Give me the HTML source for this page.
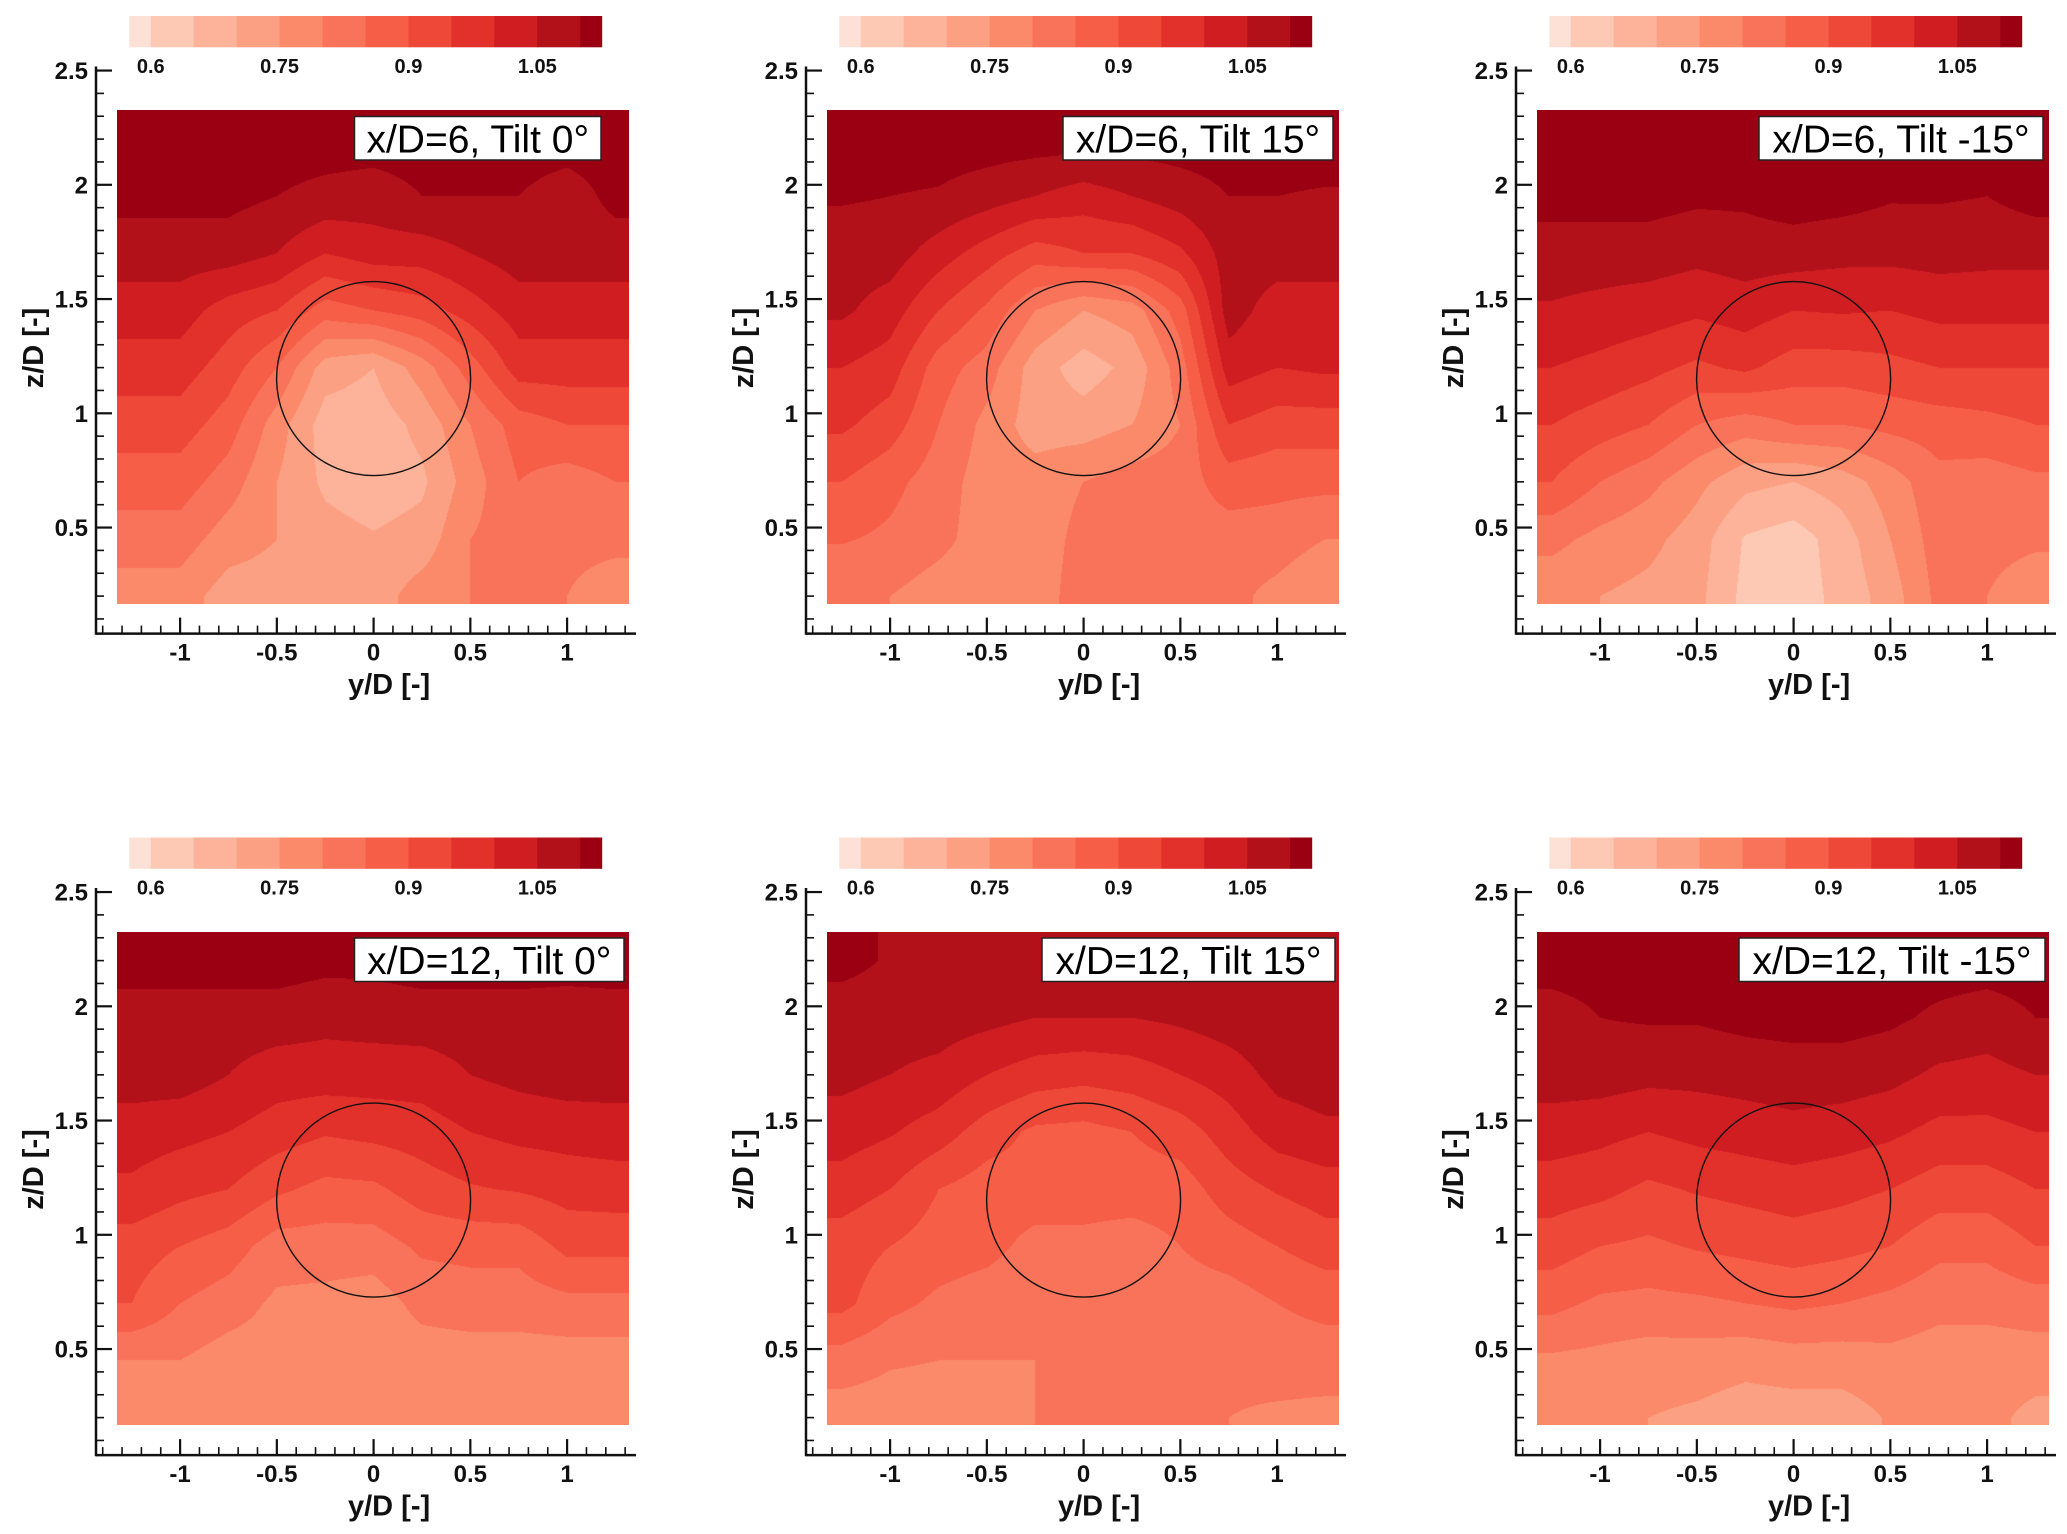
<!DOCTYPE html>
<html><head><meta charset="utf-8"><style>
html,body{margin:0;padding:0;background:#fff;}
#root{position:relative;width:2067px;height:1534px;background:#fff;overflow:hidden;}
#root canvas{position:absolute;}
#overlay{position:absolute;left:0;top:0;}
</style></head>
<body>
<div id="root">
<svg id="overlay" width="2067" height="1534" xmlns="http://www.w3.org/2000/svg"></svg>
</div>
<script>
const yNodes=[-1.25,-1,-0.75,-0.5,-0.25,0,0.25,0.5,0.75,1,1.25];
const zNodes=[2.2,1.95,1.7,1.45,1.2,0.95,0.7,0.45,0.2];
const levels=[0.6,0.65,0.7,0.75,0.8,0.85,0.9,0.95,1.0,1.05,1.1];
const levelColors=['#fde0d6','#fdc9b4','#fcb39a','#fca083','#fb8a6a','#f9735a','#f65e48','#ee4838','#e2302a','#cf1d22','#b3111a','#9a0012'];
const cbTicks=[0.6,0.75,0.9,1.05];
const cbTickLabels=['0.6','0.75','0.9','1.05'];
const xTicks=[-1,-0.5,0,0.5,1];
const xTickLabels=['-1','-0.5','0','0.5','1'];
const zTicks=[0.5,1,1.5,2,2.5];
const zTickLabels=['0.5','1','1.5','2','2.5'];
const panelTitles=['x/D=6, Tilt 0°','x/D=6, Tilt 15°','x/D=6, Tilt -15°','x/D=12, Tilt 0°','x/D=12, Tilt 15°','x/D=12, Tilt -15°'];

const u6t0=[
[1.125,1.125,1.125,1.125,1.125,1.125,1.125,1.125,1.125,1.125,1.125],
[1.115,1.115,1.115,1.1,1.085,1.075,1.1,1.1,1.1,1.075,1.115],
[1.075,1.075,1.075,1.05,1.0,1.025,1.025,1.05,1.075,1.075,1.075],
[1.025,1.025,0.975,0.95,0.875,0.9,0.925,0.975,1.025,1.025,1.025],
[0.975,0.975,0.925,0.85,0.725,0.7,0.775,0.875,0.975,0.975,0.975],
[0.925,0.925,0.875,0.775,0.675,0.67,0.715,0.8,0.875,0.9,0.9],
[0.875,0.875,0.825,0.75,0.69,0.67,0.69,0.775,0.85,0.825,0.85],
[0.825,0.825,0.775,0.75,0.72,0.705,0.72,0.8,0.825,0.825,0.825],
[0.775,0.775,0.725,0.725,0.725,0.725,0.775,0.8,0.8,0.8,0.75]];
const u6t15=[
[1.125,1.125,1.125,1.125,1.125,1.125,1.125,1.125,1.125,1.125,1.125],
[1.105,1.1,1.095,1.075,1.05,1.025,1.05,1.075,1.1,1.1,1.095],
[1.075,1.075,1.025,0.975,0.925,0.95,0.95,0.99,1.075,1.075,1.075],
[1.06,1.025,0.95,0.89,0.8,0.75,0.775,0.875,1.075,1.025,1.025],
[1.0,0.975,0.875,0.825,0.725,0.675,0.715,0.825,1.025,1.0,1.01],
[0.96,0.925,0.85,0.785,0.725,0.725,0.75,0.8,0.95,0.925,0.925],
[0.9,0.865,0.825,0.775,0.775,0.8,0.825,0.825,0.875,0.865,0.865],
[0.855,0.84,0.815,0.775,0.775,0.815,0.825,0.825,0.825,0.825,0.8],
[0.8,0.8,0.775,0.765,0.775,0.825,0.825,0.825,0.815,0.785,0.75]];
const u6tm15=[
[1.125,1.125,1.125,1.125,1.125,1.125,1.125,1.125,1.125,1.125,1.125],
[1.12,1.12,1.12,1.11,1.11,1.125,1.12,1.105,1.105,1.1,1.12],
[1.075,1.075,1.075,1.065,1.075,1.075,1.065,1.065,1.07,1.065,1.065],
[1.045,1.035,1.025,1.01,1.025,1.0,1.005,1.0,1.015,1.015,1.015],
[1.0,0.985,0.965,0.94,0.96,0.925,0.925,0.935,0.95,0.95,0.95],
[0.95,0.925,0.9,0.85,0.825,0.85,0.85,0.865,0.875,0.885,0.9],
[0.9,0.85,0.815,0.765,0.715,0.7,0.725,0.775,0.835,0.825,0.84],
[0.815,0.785,0.765,0.725,0.645,0.625,0.675,0.75,0.825,0.825,0.815],
[0.765,0.75,0.735,0.715,0.635,0.625,0.665,0.725,0.815,0.8,0.75]];
const u12t0=[
[1.125,1.125,1.125,1.125,1.115,1.115,1.125,1.125,1.125,1.12,1.125],
[1.075,1.075,1.075,1.075,1.065,1.07,1.075,1.075,1.075,1.075,1.075],
[1.075,1.075,1.05,1.025,1.025,1.025,1.025,1.05,1.065,1.075,1.075],
[1.025,1.015,1.0,0.975,0.955,0.965,0.975,1.0,1.015,1.02,1.025],
[0.99,0.965,0.95,0.91,0.885,0.89,0.925,0.945,0.955,0.97,0.975],
[0.925,0.9,0.875,0.825,0.825,0.825,0.86,0.865,0.865,0.915,0.915],
[0.9,0.85,0.825,0.79,0.785,0.775,0.815,0.825,0.825,0.835,0.835],
[0.8,0.8,0.775,0.775,0.775,0.775,0.775,0.775,0.775,0.775,0.775],
[0.775,0.775,0.775,0.76,0.75,0.75,0.775,0.775,0.775,0.775,0.775]];
const u12t15=[
[1.115,1.095,1.09,1.09,1.085,1.085,1.085,1.09,1.095,1.095,1.095],
[1.075,1.075,1.075,1.065,1.05,1.05,1.05,1.06,1.075,1.085,1.09],
[1.065,1.05,1.035,1.0,0.975,0.965,0.975,1.0,1.025,1.065,1.075],
[1.025,1.005,0.975,0.925,0.89,0.885,0.9,0.925,0.975,1.025,1.04],
[0.975,0.95,0.9,0.875,0.875,0.875,0.875,0.875,0.925,0.955,0.975],
[0.925,0.9,0.875,0.865,0.835,0.835,0.825,0.85,0.875,0.9,0.925],
[0.915,0.865,0.84,0.825,0.815,0.825,0.825,0.825,0.825,0.85,0.865],
[0.825,0.805,0.8,0.8,0.8,0.815,0.81,0.81,0.815,0.825,0.825],
[0.775,0.775,0.775,0.785,0.8,0.815,0.8,0.8,0.8,0.79,0.785]];
const u12tm15=[
[1.125,1.125,1.125,1.125,1.125,1.125,1.125,1.125,1.125,1.125,1.125],
[1.075,1.1,1.105,1.105,1.115,1.12,1.12,1.11,1.09,1.075,1.1],
[1.075,1.075,1.065,1.065,1.07,1.075,1.075,1.065,1.04,1.035,1.05],
[1.025,1.015,1.0,1.015,1.025,1.035,1.025,1.01,0.985,0.985,1.0],
[0.975,0.965,0.94,0.955,0.965,0.975,0.965,0.95,0.925,0.925,0.95],
[0.925,0.9,0.89,0.905,0.915,0.925,0.915,0.9,0.865,0.865,0.9],
[0.865,0.84,0.835,0.84,0.85,0.86,0.85,0.835,0.815,0.815,0.825],
[0.79,0.785,0.775,0.775,0.765,0.775,0.775,0.785,0.775,0.775,0.775],
[0.765,0.75,0.75,0.74,0.725,0.725,0.725,0.755,0.765,0.765,0.735]];

const fields=[u6t0,u6t15,u6tm15,u12t0,u12t15,u12tm15];
const boxLeft=[354.5,353,339,354.5,332,319];
const boxRight=[601,623,623,624,625,625];
const root=document.getElementById('root');
const svg=document.getElementById('overlay');
const NS='http://www.w3.org/2000/svg';
const FONT='"Liberation Sans", Arial, sans-serif';

function mk(tag,attrs,parent){const e=document.createElementNS(NS,tag);for(const k in attrs)e.setAttribute(k,attrs[k]);(parent||svg).appendChild(e);return e;}
function levelIndex(v){let i=0;for(let k=0;k<levels.length;k++){if(v>=levels[k])i=k+1;}return i;}
function sample(f,y,z){
  let fy=(y-yNodes[0])/(yNodes[1]-yNodes[0]);fy=Math.max(0,Math.min(yNodes.length-1,fy));
  let fz=(zNodes[0]-z)/(zNodes[0]-zNodes[1]);fz=Math.max(0,Math.min(zNodes.length-1,fz));
  const i0=Math.min(Math.floor(fy),yNodes.length-2),j0=Math.min(Math.floor(fz),zNodes.length-2);
  const ty=fy-i0,tz=fz-j0;
  const a=f[j0][i0],b=f[j0][i0+1],c=f[j0+1][i0],d=f[j0+1][i0+1];
  return (a*(1-ty)+b*ty)*(1-tz)+(c*(1-ty)+d*ty)*tz;
}
function hexRgb(h){return [parseInt(h.substr(1,2),16),parseInt(h.substr(3,2),16),parseInt(h.substr(5,2),16)];}
const rgbs=levelColors.map(hexRgb);

for(let p=0;p<6;p++){
  const col=p%3,row=Math.floor(p/3);
  const ox=col*710,oy=row*821.5;
  const X=y=>ox+373.6+193.5*y;
  const Z=z=>oy+413.3-228.5*(z-1);
  const g=mk('g',{});
  
  

  const left=Math.round(X(-1.328)),right=Math.round(X(1.322)),top=Math.round(Z(2.326)),bot=Math.round(Z(0.167));
  const cv=document.createElement('canvas');
  
  
  cv.width=right-left;cv.height=bot-top;
  cv.style.left=left+'px';cv.style.top=top+'px';
  root.insertBefore(cv,svg);
  const ctx=cv.getContext('2d');const img=ctx.createImageData(cv.width,cv.height);
  const f=fields[p];
  for(let py=0;py<cv.height;py++){
    const z=1-(top+py+0.5-oy-413.3)/228.5;
    for(let px=0;px<cv.width;px++){
      const y=(left+px+0.5-ox-373.6)/193.5;
      const c=rgbs[levelIndex(sample(f,y,z))];
      const o=(py*cv.width+px)*4;img.data[o]=c[0];img.data[o+1]=c[1];img.data[o+2]=c[2];img.data[o+3]=255;
    }
  }
  ctx.putImageData(img,0,0);

  const cbLeft=ox+129.3,cbW=472.4,cbTop=oy+16,cbH=31.3;
  const CB=v=>cbLeft+(v-0.575)/0.55*cbW;
  for(let i=0;i<levelColors.length;i++){
    const lo=i===0?0.575:levels[i-1],hi=i===levelColors.length-1?1.125:levels[i];
    const r=mk('rect',{x:CB(lo),y:cbTop,width:CB(hi)-CB(lo)+0.5,height:cbH,fill:levelColors[i]},g);
    
    
  }
  for(let i=0;i<cbTicks.length;i++){
    const t=mk('text',{x:CB(cbTicks[i]),y:oy+73,'font-family':FONT,'font-size':20,'font-weight':'bold','text-anchor':'middle',fill:'#111'},g);
    
    
    t.textContent=cbTickLabels[i];
  }

  const c=mk('circle',{cx:X(0),cy:Z(1.152),r:97,fill:'none',stroke:'#111','stroke-width':1.4},g);
  
  

  const bx=ox+boxLeft[p],bw=boxRight[p]-boxLeft[p];
  const rb=mk('rect',{x:bx,y:oy+116.5,width:bw,height:43.5,fill:'#fff',stroke:'#222','stroke-width':1.5},g);
  
  
  const tt=mk('text',{x:bx+bw/2,y:oy+152.5,'font-family':FONT,'font-size':39,'text-anchor':'middle',fill:'#000'},g);
  
  
  tt.textContent=panelTitles[p];

  const axB=oy+633.6,axL=ox+96;
  const xa=mk('line',{x1:axL,y1:axB,x2:ox+636,y2:axB,stroke:'#111','stroke-width':2.5},g);
  
  
  const za=mk('line',{x1:axL,y1:oy+66.5,x2:axL,y2:axB+1.2,stroke:'#111','stroke-width':2.5},g);
  
  
  for(let i=-14;i<=13;i++){
    const major=(i%5===0);
    const tk=mk('line',{x1:X(i/10),y1:axB,x2:X(i/10),y2:axB-(major?16:8),stroke:'#111','stroke-width':major?2.2:1.6},g);
    
    
  }
  for(let i=1;i<=25;i++){
    const major=(i%5===0);
    const tk=mk('line',{x1:axL,y1:Z(i/10),x2:axL+(major?16:8),y2:Z(i/10),stroke:'#111','stroke-width':major?2.2:1.6},g);
    
    
  }
  for(let i=0;i<xTicks.length;i++){
    const t=mk('text',{x:X(xTicks[i]),y:axB+27,'font-family':FONT,'font-size':24,'font-weight':'bold','text-anchor':'middle',fill:'#111'},g);
    
    
    t.textContent=xTickLabels[i];
  }
  for(let i=0;i<zTicks.length;i++){
    const t=mk('text',{x:ox+88,y:Z(zTicks[i])+8.5,'font-family':FONT,'font-size':24,'font-weight':'bold','text-anchor':'end',fill:'#111'},g);
    
    
    t.textContent=zTickLabels[i];
  }
  const xt=mk('text',{x:X(0.08),y:oy+694,'font-family':FONT,'font-size':29,'font-weight':'bold','text-anchor':'middle',fill:'#111'},g);
  
  
  xt.textContent='y/D [-]';
  const zt=mk('text',{x:0,y:0,'font-family':FONT,'font-size':29,'font-weight':'bold','text-anchor':'middle',fill:'#111',transform:'translate('+(ox+43)+','+(oy+348)+') rotate(-90)'},g);
  
  
  zt.textContent='z/D [-]';
}
</script>
</body></html>
